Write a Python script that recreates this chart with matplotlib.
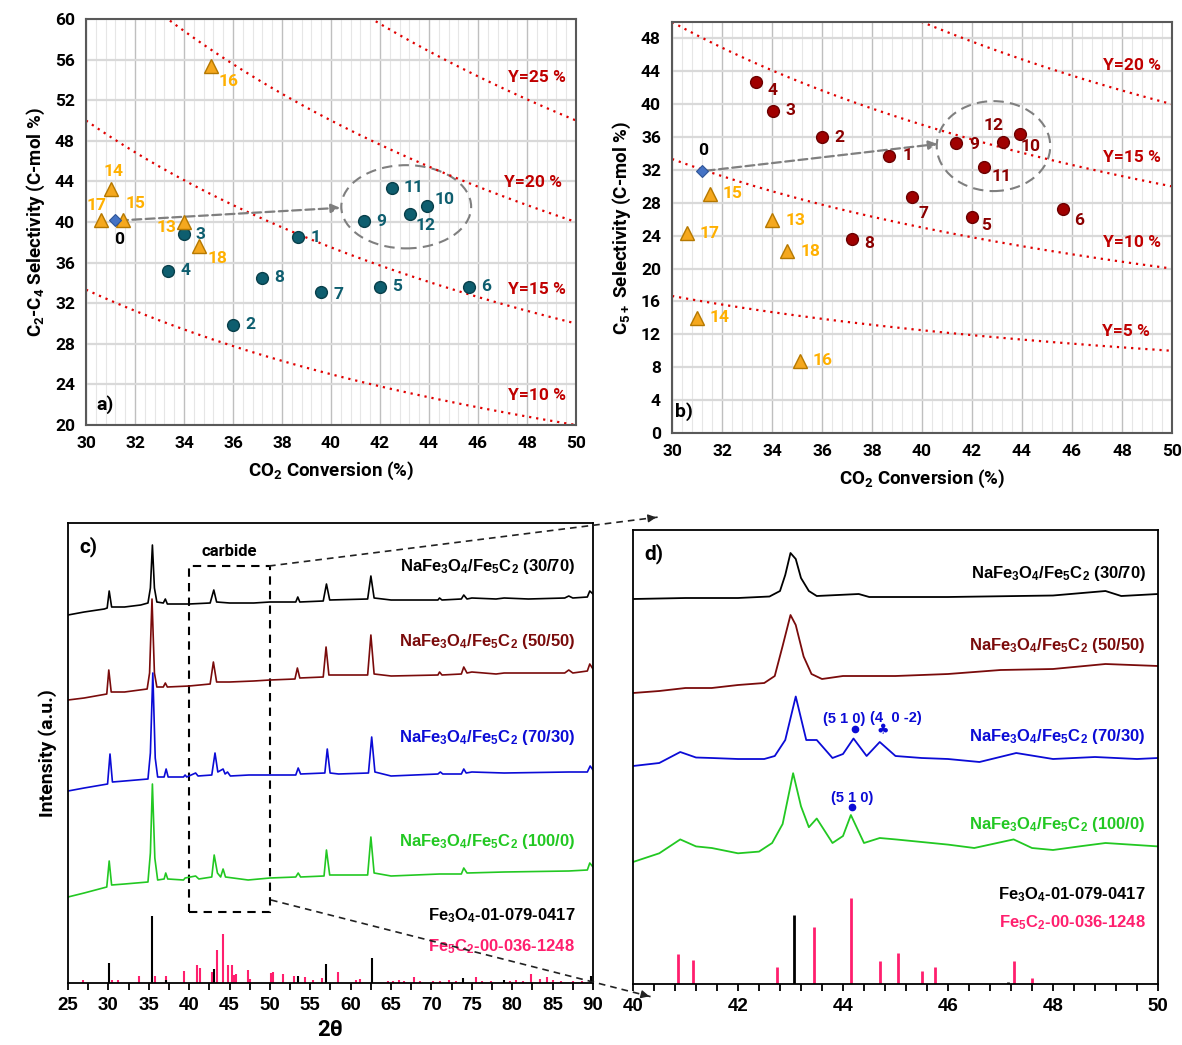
import matplotlib
matplotlib.use("Agg")
import matplotlib.pyplot as plt
import numpy as np
from matplotlib.patches import Ellipse, Rectangle, FancyArrowPatch
from matplotlib.lines import Line2D
from matplotlib.ticker import MultipleLocator

plt.rcParams['mathtext.default'] = 'regular'

# ---------------- catalytic results (panels a, b) ----------------
cat_ids = ["1", "2", "3", "4", "5", "6", "7", "8", "9", "10", "11", "12"]
conv = [38.67, 36.0, 34.02, 33.35, 42.01, 45.63, 39.61, 37.18, 41.36, 43.92, 42.48, 43.23]
sel_c2c4 = [38.5, 29.9, 38.8, 35.2, 33.6, 33.6, 33.1, 34.5, 40.05, 41.6, 43.35, 40.8]
sel_c5 = [33.74, 35.97, 39.2, 42.73, 26.25, 27.22, 28.76, 23.6, 35.3, 36.37, 32.32, 35.44]

ref_ids = ["13", "14", "15", "16", "17", "18"]
ref_conv = [34.0, 31.0, 31.5, 35.1, 30.6, 34.6]
ref_c2c4 = [40.0, 43.3, 40.2, 55.4, 40.2, 37.6]
ref_c5 = [25.9, 14.0, 29.1, 8.8, 24.3, 22.1]

base_conv = 31.2
base_c2c4 = 40.15
base_c5 = 31.9

yields_a = [10, 15, 20, 25]
yields_b = [5, 10, 15, 20]

# ---------------- XRD patterns (panels c, d) ----------------
tt_c_30 = [25, 27, 29.5, 29.85, 30.1, 30.4, 32, 34, 34.9, 35.2, 35.45, 35.7, 36.0, 36.8, 37.05, 37.3, 40, 42.6, 43.05, 43.4,
           45, 48, 50, 53.2, 53.45, 53.7, 56.6, 57.0, 57.4, 62.1, 62.5, 62.9, 65, 70.8, 71.0, 71.3, 73.7, 74.0, 74.4, 75.0,
           78, 79, 82, 86.5, 87, 87.5, 89.3, 89.6, 90]
int_c_30 = [3, 6, 9, 10, 27, 11, 11, 13, 15, 30, 73, 30, 16, 15, 19, 14, 14, 15, 28, 16,
            15, 15, 16, 16, 21, 16, 17, 34, 18, 19, 42, 20, 18, 18, 20, 18, 19, 23, 19, 20,
            19, 20, 19, 20, 22, 20, 21, 27, 24]
tt_c_50 = [25, 27, 29.8, 30.05, 30.35, 32, 34.8, 35.1, 35.4, 35.7, 36.0, 36.8, 37.05, 37.3, 40, 42.6, 43.0, 43.4, 45, 48,
           50, 53.1, 53.4, 53.7, 56.6, 56.95, 57.3, 62.1, 62.5, 62.9, 65, 70.8, 71.0, 71.3, 73.7, 74.0, 74.4, 75, 78, 79,
           86.5, 87, 87.5, 89.3, 89.6, 90]
int_c_50 = [3, 5, 9, 33, 11, 11, 14, 30, 104, 30, 16, 16, 20, 16, 17, 19, 41, 21, 21, 22,
            23, 24, 35, 25, 26, 56, 28, 28, 68, 29, 27, 28, 31, 28, 29, 36, 30, 31, 29, 30,
            30, 33, 30, 32, 39, 34]
tt_c_70 = [25, 27, 29.9, 30.2, 30.5, 32, 34.9, 35.2, 35.5, 35.8, 36.1, 36.9, 37.15, 37.4, 39.3, 39.5, 39.7, 40.8, 41.1, 42.8,
           43.2, 43.55, 44.2, 44.45, 44.75, 45.1, 47.4, 50, 53.2, 53.5, 53.8, 56.8, 57.1, 57.45, 58.5, 62.2, 62.6, 63.0, 65, 70.8,
           71.1, 71.4, 73.7, 74.0, 74.3, 75.0, 79, 87, 89.3, 89.65, 90]
int_c_70 = [2, 5, 9, 39, 11, 12, 14, 40, 120, 35, 16, 16, 24, 16, 16, 18, 16, 20, 17, 18,
            40, 21, 24, 19, 21, 17, 18, 18, 18, 25, 19, 20, 44, 20, 19, 20, 56, 21, 17, 19,
            21, 19, 19, 24, 20, 21, 20, 21, 21, 27, 23]
tt_c_100 = [25, 27, 29.8, 30.1, 30.4, 32, 34.9, 35.2, 35.45, 35.75, 36.1, 36.9, 37.1, 37.35, 39.3, 39.5, 40.8, 41.2, 42.8, 43.1,
            43.5, 43.9, 44.2, 44.5, 47.3, 50, 53.2, 53.5, 53.8, 56.7, 57.0, 57.4, 62.1, 62.5, 62.9, 65, 71, 73.7, 74.0, 74.4,
            79, 87, 89.3, 89.6, 90]
int_c_100 = [1, 5, 11, 37, 13, 14, 16, 45, 114, 40, 18, 19, 25, 19, 18, 20, 22, 19, 21, 43,
             25, 21, 29, 21, 18, 20, 21, 25, 21, 22, 48, 23, 23, 61, 25, 22, 24, 24, 30, 25,
             26, 27, 28, 35, 31]

fe3o4_pos_c = [30.09, 35.44, 37.1, 43.05, 53.45, 57.0, 62.6, 73.9, 79.0, 89.7]
fe3o4_int_c = [20, 67, 3, 14, 6.6, 18.7, 25, 5, 2.6, 7]
fe5c2_pos_c = [26.8, 30.5, 31.2, 33.85, 35.8, 37.1, 39.4, 41.0, 41.3, 42.8, 43.5, 44.2, 44.8, 45.25, 45.6, 45.8, 47.3, 47.5,
               50.1, 50.35, 51.6, 53.0, 54.3, 55.35, 56.5, 58.45, 60.6, 61.2, 64.6, 65.3, 66.0, 66.6, 67.8, 68.6, 70.2,
               71.0, 72.2, 73.0, 75.5, 76.2, 77.4, 79.7, 80.5, 81.3, 82.3, 83.5, 84.3, 85.0, 86.0, 87.5, 88.6]
fe5c2_int_c = [2.6, 2.6, 2.6, 7, 7, 7, 12.5, 18, 15, 11, 33, 49, 18, 18, 8, 9, 13.5, 4,
               10, 11.5, 9, 7, 5.6, 3, 5.3, 11.5, 3, 3.6, 2, 2, 3, 2, 6, 2, 2,
               2, 3, 2, 6, 2, 2, 2, 3, 2, 9, 4, 6, 3, 2, 2, 2]

tt_d_30 = [40, 41, 42, 42.6, 42.8, 42.9, 43.0, 43.1, 43.2, 43.35, 43.5, 44.3, 44.5, 46, 48, 49, 49.3, 50]
int_d_30 = [5, 6, 6, 7.5, 13, 29, 51, 45, 26, 13, 8, 10, 7, 7, 8.5, 13, 8, 10]
tt_d_50 = [40, 40.5, 41, 41.5, 42, 42.5, 42.7, 42.85, 43.0, 43.1, 43.25, 43.4, 43.6, 44, 45, 46, 47, 48, 49, 50]
int_d_50 = [6, 8, 11, 11, 14, 16, 23, 53, 84, 74, 42.5, 25, 20, 23, 23, 25, 29, 30, 35, 33]
tt_d_70 = [40, 40.5, 40.9, 41.2, 41.5, 42, 42.5, 42.7, 42.9, 43.1, 43.3, 43.5, 43.8, 44.0, 44.2, 44.45, 44.7, 45.0, 45.5,
           46, 46.6, 47.3, 48, 48.8, 49.2, 49.6, 50]
int_d_70 = [8, 11, 22, 16.5, 16, 15, 15, 18, 34, 77.5, 34, 34, 16, 20, 35.5, 18, 32, 18, 16,
            15, 12, 21, 15, 17, 16, 15, 16]
tt_d_100 = [40, 40.5, 40.9, 41.2, 41.5, 42, 42.4, 42.65, 42.85, 43.05, 43.2, 43.35, 43.5, 43.8, 44.0, 44.15, 44.4, 44.7,
            45.0, 46, 46.5, 47.25, 47.6, 48, 48.5, 49, 50]
int_d_100 = [2, 10.7, 24.6, 17.6, 16, 10.7, 12.4, 21, 40, 90.8, 57.7, 36.8, 45.5, 21, 28, 49, 21, 26,
             24.6, 19.4, 16, 24.6, 16, 14, 17.6, 21, 17.6]

fe3o4_pos_d = [43.07, 47.15]
fe3o4_int_d = [69, 2.4]
fe5c2_pos_d = [40.85, 41.15, 42.75, 43.45, 44.15, 44.7, 45.05, 45.5, 45.75, 47.25, 47.6]
fe5c2_int_d = [30, 24, 17.4, 57, 86, 23, 31, 13, 17, 23, 6]

sample_names = ["NaFe$_3$O$_4$/Fe$_5$C$_2$ (30/70)", "NaFe$_3$O$_4$/Fe$_5$C$_2$ (50/50)",
                "NaFe$_3$O$_4$/Fe$_5$C$_2$ (70/30)", "NaFe$_3$O$_4$/Fe$_5$C$_2$ (100/0)"]
sample_colors = ["#000000", "#7A0B0B", "#0B0BD6", "#22C822"]
pink = "#FF1F6E"

teal = "#0E5E6F"
darkred = "#A00000"
orange_face = "#F5A81E"
orange_edge = "#B57800"
orange_txt = "#FFB000"
yred = "#C00000"

fig = plt.figure(figsize=(11.82, 10.45), dpi=100)
ax_a = fig.add_axes([0.07276, 0.59330, 0.41455, 0.38852])
ax_b = fig.add_axes([0.56853, 0.58565, 0.42301, 0.39330])
ax_c = fig.add_axes([0.05753, 0.05933, 0.44416, 0.44019])
ax_d = fig.add_axes([0.53553, 0.05837, 0.44416, 0.43445])

FA = "Roboto"
FX = "Liberation Sans"


def yield_panel(ax, sel, ref_sel, base_sel, yields, ylim, ystep, circ_face, circ_edge, num_color,
                lab_off, ref_off, base_off, y_lab_pos, ellipse, arrow_end, ylabel, tag, tag_pos):
    ax.set_xlim(30, 50)
    ax.set_ylim(*ylim)
    ax.xaxis.set_major_locator(MultipleLocator(2))
    ax.xaxis.set_minor_locator(MultipleLocator(0.4))
    ax.yaxis.set_major_locator(MultipleLocator(ystep))
    ax.grid(True, which="major", axis="x", color="#BFBFBF", lw=1.0)
    ax.grid(True, which="minor", axis="x", color="#E6E6E6", lw=0.8)
    ax.grid(True, which="major", axis="y", color="#D9D9D9", lw=1.6)
    ax.set_axisbelow(True)
    ax.tick_params(which="both", length=0, labelsize=12.5, pad=8)
    for s in ax.spines.values():
        s.set_color("#595959")
        s.set_linewidth(1.5)

    xx = np.linspace(30, 50, 200)
    for y, pos in zip(yields, y_lab_pos):
        ax.plot(xx, 100.0 * y / xx, color="#E00000", lw=1.6, ls=(0, (1, 2.2)), clip_on=True)
        ax.text(pos[0], pos[1], "Y=%d %%" % y, color=yred, fontsize=12.5, fontweight="bold",
                family=FA, ha="center", va="center")

    ax.add_patch(Ellipse(ellipse[:2], ellipse[2], ellipse[3], fill=False, ec="#7F7F7F",
                         lw=1.5, ls=(0, (5, 3))))
    ax.annotate("", xy=arrow_end, xytext=(base_conv + 0.15, base_sel),
                arrowprops=dict(arrowstyle="-|>", color="#7F7F7F", lw=1.6, ls=(0, (4, 2)),
                                mutation_scale=13, shrinkA=0, shrinkB=0))

    ax.plot(conv, sel, "o", ms=8.5, mfc=circ_face, mec=circ_edge, mew=1, zorder=4)
    ax.plot(ref_conv, ref_sel, "^", ms=9.5, mfc=orange_face, mec=orange_edge, mew=1, zorder=4)
    ax.plot([base_conv], [base_sel], "D", ms=6.5, mfc="#4472C4", mec="#2F5597", mew=0.8, zorder=5)

    for i, lab in enumerate(cat_ids):
        ax.annotate(lab, (conv[i], sel[i]), xytext=lab_off[i], textcoords="offset pixels",
                    ha="center", va="center", color=num_color, fontsize=12.5,
                    fontweight="bold", family=FA, zorder=6)
    for i, lab in enumerate(ref_ids):
        ax.annotate(lab, (ref_conv[i], ref_sel[i]), xytext=ref_off[i], textcoords="offset pixels",
                    ha="center", va="center", color=orange_txt, fontsize=12.5,
                    fontweight="bold", family=FA, zorder=6)
    ax.annotate("0", (base_conv, base_sel), xytext=base_off, textcoords="offset pixels",
                ha="center", va="center", color="black", fontsize=12.5,
                fontweight="bold", family=FA, zorder=6)
    ax.text(tag_pos[0], tag_pos[1], tag, fontsize=14, fontweight="bold", family=FA,
            ha="center", va="center")
    ax.set_xlabel("CO$_2$ Conversion (%)", fontsize=13.5, fontweight="bold", family=FA, labelpad=6)
    ax.set_ylabel(ylabel, fontsize=13.5, fontweight="bold", family=FA, labelpad=6)


off_a = [(17.6, 0), (17, 0), (16, 0), (17, 0), (16.5, 0), (17.6, 0), (17, -2), (17, 0),
         (17, 0), (17.6, 6.5), (22, 0), (15, -11.5)]
ref_off_a = [(-17.6, -5.7), (2.7, 17), (13, 16.7), (18, -15.7), (-4, 14), (18.5, -11.7)]
yield_panel(ax_a, sel_c2c4, ref_c2c4, base_c2c4, yields_a, (20, 60), 4, teal, "#083F4A", teal,
            off_a, ref_off_a, (4, -19),
            [(48.41, 22.95), (48.41, 33.35), (48.25, 43.86), (48.41, 54.19)],
            (43.07, 41.5, 5.3, 8.2), (40.37, 41.4),
            "C$_2$-C$_4$ Selectivity (C-mol %)", "a)", (30.78, 22.03))

off_b = [(19, 0), (17, 0), (18, 0), (17, -9), (14, -8), (16, -11), (11, -17), (18, -4),
         (18, -2), (11, -12), (18, -9), (-9, 16)]
ref_off_b = [(23, 0)] * 6
yield_panel(ax_b, sel_c5, ref_c5, base_c5, yields_b, (0, 50), 4, darkred, "#6B0000", "#8B0000",
            off_b, ref_off_b, (1.5, 20),
            [(48.15, 12.35), (48.41, 23.17), (48.41, 33.5), (48.41, 44.75)],
            (42.86, 34.9, 4.54, 10.94), (40.62, 35.16),
            "C$_{5+}$ Selectivity (C-mol %)", "b)", (30.48, 2.6))
ax_b.set_yticks(np.arange(0, 49, 4))

for ax in (ax_a, ax_b):
    for lab in ax.get_xticklabels() + ax.get_yticklabels():
        lab.set_fontfamily(FA)
        lab.set_fontweight("bold")

# ---------------- panel c ----------------
offs_c = [365, 280, 190, 85]
traces_c = [(tt_c_30, int_c_30), (tt_c_50, int_c_50), (tt_c_70, int_c_70), (tt_c_100, int_c_100)]
for (tt, it), off, col in zip(traces_c, offs_c, sample_colors):
    ax_c.plot(tt, np.array(it) + off, color=col, lw=1.2)
ax_c.vlines(fe5c2_pos_c, 0, fe5c2_int_c, color=pink, lw=1.5)
ax_c.vlines(fe3o4_pos_c, 0, fe3o4_int_c, color="black", lw=1.5)

ax_c.set_xlim(25, 90)
ax_c.set_ylim(0, 460)
ax_c.xaxis.set_major_locator(MultipleLocator(5))
ax_c.xaxis.set_minor_locator(MultipleLocator(2.5))
ax_c.set_yticks([])

lab_y_c = [417, 342, 246, 142]
for name, y, col in zip(sample_names, lab_y_c, sample_colors):
    ax_c.text(87.8, y, name, color=col, fontsize=12, fontweight="bold", family=FX, ha="right", va="center")
ax_c.text(87.8, 67, "Fe$_3$O$_4$-01-079-0417", color="black", fontsize=12, fontweight="bold",
          family=FX, ha="right", va="center")
ax_c.text(87.8, 36, "Fe$_5$C$_2$-00-036-1248", color=pink, fontsize=12, fontweight="bold",
          family=FX, ha="right", va="center")
ax_c.add_patch(Rectangle((40, 71), 10, 346, fill=False, ec="black", lw=1.5, ls=(0, (4, 3))))
ax_c.text(45, 432, "carbide", fontsize=12, fontweight="bold", family=FA, ha="center", va="center")
ax_c.text(27.5, 436, "c)", fontsize=15, fontweight="bold", family=FA, ha="center", va="center")
ax_c.set_xlabel("2θ", fontsize=16, fontweight="bold", family=FA, labelpad=4)
ax_c.set_ylabel("Intensity (a.u.)", fontsize=14, fontweight="bold", family=FA, labelpad=8)

# ---------------- panel d ----------------
offs_d = [380, 285, 210, 120]
traces_d = [(tt_d_30, int_d_30), (tt_d_50, int_d_50), (tt_d_70, int_d_70), (tt_d_100, int_d_100)]
for (tt, it), off, col in zip(traces_d, offs_d, sample_colors):
    ax_d.plot(tt, np.array(it) + off, color=col, lw=1.3)
ax_d.vlines(fe5c2_pos_d, 0, fe5c2_int_d, color=pink, lw=2)
ax_d.vlines(fe3o4_pos_d, 0, fe3o4_int_d, color="black", lw=2)

ax_d.set_xlim(40, 50)
ax_d.set_ylim(0, 454)
ax_d.xaxis.set_major_locator(MultipleLocator(2))
ax_d.xaxis.set_minor_locator(MultipleLocator(0.4))
ax_d.set_yticks([])

lab_y_d = [411, 339, 248, 160]
for name, y, col in zip(sample_names, lab_y_d, sample_colors):
    ax_d.text(49.77, y, name, color=col, fontsize=12, fontweight="bold", family=FX, ha="right", va="center")
ax_d.text(49.77, 89, "Fe$_3$O$_4$-01-079-0417", color="black", fontsize=12, fontweight="bold",
          family=FX, ha="right", va="center")
ax_d.text(49.77, 61, "Fe$_5$C$_2$-00-036-1248", color=pink, fontsize=12, fontweight="bold",
          family=FX, ha="right", va="center")
ax_d.text(40.4, 430, "d)", fontsize=15, fontweight="bold", family=FA, ha="center", va="center")

blue = sample_colors[2]
ax_d.text(44.03, 265.5, "(5 1 0)", color=blue, fontsize=10.5, fontweight="bold", family=FX, ha="center", va="center")
ax_d.plot([44.23], [255], "o", ms=4.5, color=blue)
ax_d.text(45.0, 266.5, "(4  0 -2)", color=blue, fontsize=10.5, fontweight="bold", family=FX, ha="center", va="center")
ax_d.text(44.75, 253.7, "♣", color=blue, fontsize=10, family="DejaVu Sans", ha="center", va="center")
ax_d.text(44.17, 186.4, "(5 1 0)", color=blue, fontsize=10.5, fontweight="bold", family=FX, ha="center", va="center")
ax_d.plot([44.17], [177], "o", ms=4.5, color=blue)

for ax in (ax_c, ax_d):
    ax.tick_params(which="both", direction="out", length=5, width=1.3, labelsize=13.5, pad=5)
    for lab in ax.get_xticklabels():
        lab.set_fontfamily(FX)
        lab.set_fontweight("bold")
    for s in ax.spines.values():
        s.set_linewidth(1.3)

# dashed connectors from the carbide box to the zoomed panel
for (x0, y0), (x1, y1) in [((269, 566), (659, 517)), ((271, 900), (652, 997))]:
    p0 = (x0 / 1182, 1 - y0 / 1045)
    p1 = (x1 / 1182, 1 - y1 / 1045)
    fig.add_artist(Line2D([p0[0], p1[0]], [p0[1], p1[1]], transform=fig.transFigure,
                          color="#222222", lw=1.2, ls=(0, (4, 3))))
    pm = (p0[0] + 0.97 * (p1[0] - p0[0]), p0[1] + 0.97 * (p1[1] - p0[1]))
    fig.add_artist(FancyArrowPatch(pm, p1, transform=fig.transFigure, arrowstyle="-|>",
                                   mutation_scale=12, color="#222222", lw=1.0))

fig.savefig("out.png", dpi=100)
